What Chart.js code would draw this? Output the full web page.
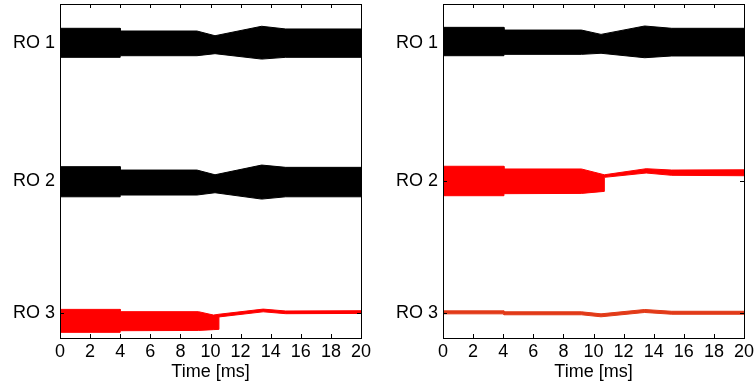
<!DOCTYPE html>
<html>
<head>
<meta charset="utf-8">
<script src="https://cdn.jsdelivr.net/npm/chart.js@4"></script>
<style>
  html, body { margin: 0; padding: 0; background: #fff; }
  #wrap { position: relative; width: 755px; height: 385px; }
  .panel { position: absolute; top: 0; height: 385px; }
  #left { left: 0; width: 375px; }
  #right { left: 375px; width: 380px; }
</style>
</head>
<body>
<div id="wrap">
  <div class="panel" id="left"><canvas id="leftChart"></canvas></div>
  <div class="panel" id="right"><canvas id="rightChart"></canvas></div>
</div>
<script>
// x axis ticks (time in ms)
const timeTicks = [0, 2, 4, 6, 8, 10, 12, 14, 16, 18, 20];
// y offsets of the three oscillator traces and their labels
const roLabels = ['RO 3', 'RO 2', 'RO 1'];
const roOffsets = [0, 0.98, 2];

// envelope of each trace (relative to its offset)
// left panel
const leftRO1Time  = [0, 4, 4, 9.1, 10.3, 13.4, 15, 20];
const leftRO1Upper = [0.109, 0.109, 0.089, 0.089, 0.054, 0.124, 0.104, 0.104];
const leftRO1Lower = [-0.106, -0.106, -0.094, -0.094, -0.079, -0.119, -0.106, -0.106];

const leftRO2Time  = [0, 4, 4, 9.1, 10.3, 13.4, 15, 20];
const leftRO2Upper = [0.104, 0.104, 0.079, 0.079, 0.044, 0.116, 0.099, 0.099];
const leftRO2Lower = [-0.119, -0.119, -0.106, -0.106, -0.089, -0.136, -0.119, -0.119];

const leftRO3Time  = [0, 4, 4, 9.2, 10.2, 10.56, 10.56, 13.5, 15, 20];
const leftRO3Upper = [0.027, 0.027, 0.010, 0.010, -0.015, -0.009, -0.009, 0.029, 0.015, 0.017];
const leftRO3Lower = [-0.143, -0.143, -0.131, -0.129, -0.123, -0.121, -0.029, 0.009, -0.005, -0.003];

// right panel
const rightRO1Time  = [0, 4.05, 4.05, 9.2, 10.5, 13.4, 15.2, 20];
const rightRO1Upper = [0.116, 0.116, 0.096, 0.096, 0.064, 0.126, 0.109, 0.109];
const rightRO1Lower = [-0.094, -0.094, -0.084, -0.084, -0.076, -0.109, -0.096, -0.096];

const rightRO2Time  = [0, 4.05, 4.05, 9.2, 10.72, 10.72, 13.5, 15.2, 20];
const rightRO2Upper = [0.107, 0.107, 0.087, 0.087, 0.044, 0.044, 0.089, 0.079, 0.081];
const rightRO2Lower = [-0.111, -0.111, -0.096, -0.094, -0.079, 0.025, 0.057, 0.040, 0.037];

const rightRO3Time  = [0, 4.05, 4.05, 9.2, 10.5, 13.4, 15.2, 20];
const rightRO3Upper = [0.016, 0.016, 0.009, 0.009, -0.006, 0.026, 0.013, 0.013];
const rightRO3Lower = [-0.006, -0.006, -0.013, -0.013, -0.028, 0.004, -0.009, -0.009];

const BLACK = '#000000';
const RED = '#ff0000';
const ORANGE_RED = '#e23a18';

function toPoints(times, values, offset) {
    return times.map(function (t, i) { return { x: t, y: offset + values[i] }; });
}

// one filled band = upper line filled down to lower line
function bandDatasets(times, upper, lower, offset, color) {
    return [
        { data: toPoints(times, upper, offset), borderColor: color, backgroundColor: color,
          borderWidth: 1, pointRadius: 0, tension: 0, fill: '+1' },
        { data: toPoints(times, lower, offset), borderColor: color, backgroundColor: color,
          borderWidth: 1, pointRadius: 0, tension: 0, fill: false }
    ];
}

// frame + inward tick marks, matlab style
const framePlugin = {
    id: 'frame',
    afterDatasetsDraw(chart) {
        const ctx = chart.ctx;
        const a = chart.chartArea;
        const xs = chart.scales.x, ys = chart.scales.y;
        ctx.save();
        ctx.strokeStyle = '#000';
        ctx.lineWidth = 1;
        ctx.beginPath();
        timeTicks.forEach(function (t) {
            const px = Math.round(xs.getPixelForValue(t)) + 0.5;
            ctx.moveTo(px, a.bottom); ctx.lineTo(px, a.bottom - 4);
            ctx.moveTo(px, a.top); ctx.lineTo(px, a.top + 4);
        });
        roOffsets.forEach(function (v) {
            const py = Math.round(ys.getPixelForValue(v)) + 0.5;
            ctx.moveTo(a.left, py); ctx.lineTo(a.left + 4, py);
            ctx.moveTo(a.right, py); ctx.lineTo(a.right - 4, py);
        });
        ctx.stroke();
        ctx.strokeRect(Math.round(a.left) + 0.5, Math.round(a.top) + 0.5,
            Math.round(a.right - a.left), Math.round(a.bottom - a.top));
        ctx.restore();
    }
};

function makePanel(canvasId, datasets, yWidth, rightPad) {
    return new Chart(document.getElementById(canvasId), {
        type: 'line',
        data: { datasets: datasets },
        options: {
            responsive: true,
            maintainAspectRatio: false,
            animation: false,
            layout: { padding: { top: 4, right: rightPad, left: 0, bottom: 0 } },
            plugins: { legend: { display: false }, tooltip: { enabled: false } },
            scales: {
                x: {
                    type: 'linear', min: 0, max: 20,
                    grid: { display: false, drawTicks: false },
                    border: { display: false },
                    afterBuildTicks: function (s) { s.ticks = timeTicks.map(function (v) { return { value: v }; }); },
                    afterFit: function (s) { s.height = 47; s.paddingLeft = 0; s.paddingRight = 0; },
                    ticks: { color: '#000', padding: 3, maxRotation: 0, autoSkip: false,
                             font: { family: 'Liberation Sans, Arial', size: 18 } },
                    title: { display: true, text: 'Time [ms]', color: '#000',
                             padding: { top: 0, bottom: 2 },
                             font: { family: 'Liberation Sans, Arial', size: 18 } }
                },
                y: {
                    type: 'linear', min: -0.185, max: 2.289,
                    grid: { display: false, drawTicks: false },
                    border: { display: false },
                    afterBuildTicks: function (s) { s.ticks = roOffsets.map(function (v) { return { value: v }; }); },
                    afterFit: function (s) { s.width = yWidth; s.paddingTop = 0; s.paddingBottom = 0; },
                    ticks: {
                        color: '#000', padding: 5, autoSkip: false,
                        font: { family: 'Liberation Sans, Arial', size: 18 },
                        callback: function (v) {
                            const i = roOffsets.indexOf(v);
                            return i >= 0 ? roLabels[i] : '';
                        }
                    }
                }
            }
        },
        plugins: [framePlugin]
    });
}

document.addEventListener('DOMContentLoaded', function () {
    if (typeof Chart === 'undefined') {
        console.warn('Chart.js is not loaded.');
        return;
    }

    const leftSets = []
        .concat(bandDatasets(leftRO1Time, leftRO1Upper, leftRO1Lower, roOffsets[2], BLACK))
        .concat(bandDatasets(leftRO2Time, leftRO2Upper, leftRO2Lower, roOffsets[1], BLACK))
        .concat(bandDatasets(leftRO3Time, leftRO3Upper, leftRO3Lower, roOffsets[0], RED));

    const rightSets = []
        .concat(bandDatasets(rightRO1Time, rightRO1Upper, rightRO1Lower, roOffsets[2], BLACK))
        .concat(bandDatasets(rightRO2Time, rightRO2Upper, rightRO2Lower, roOffsets[1], RED))
        .concat(bandDatasets(rightRO3Time, rightRO3Upper, rightRO3Lower, roOffsets[0], ORANGE_RED));

    makePanel('leftChart', leftSets, 60, 14);
    makePanel('rightChart', rightSets, 68, 11);
});
</script>
</body>
</html>
